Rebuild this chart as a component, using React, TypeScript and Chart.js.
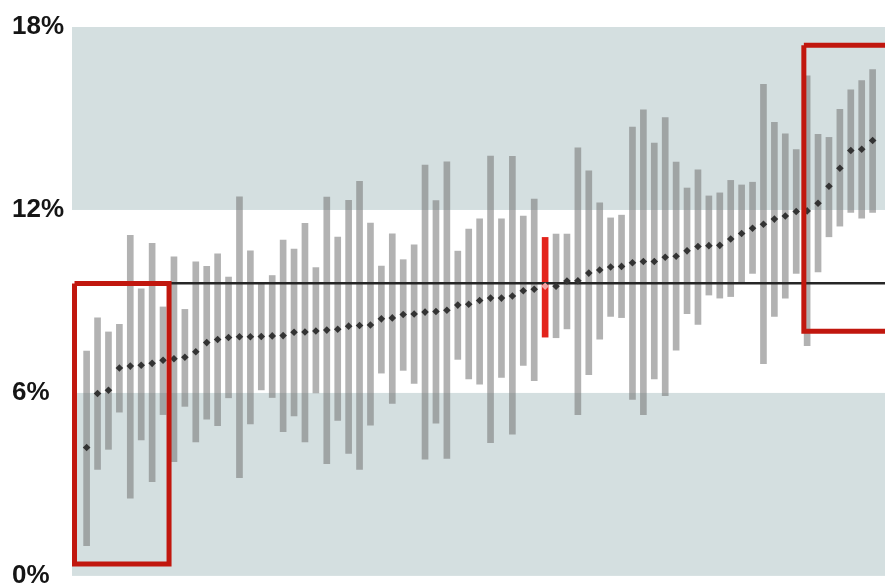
import React, { useEffect, useRef } from "react";
import { Chart, registerables } from "chart.js";

Chart.register(...registerables);

// Upper end of each range (%)
const highs: number[] = [
  7.37, 8.46, 8.0, 8.25, 11.17, 9.41, 10.91, 8.82, 10.46, 8.74,
  10.3, 10.15, 10.56, 9.8, 12.43, 10.66, 9.57, 9.85, 11.01, 10.72,
  11.56, 10.11, 12.42, 11.11, 12.32, 12.94, 11.57, 10.16, 11.22, 10.37,
  10.86, 13.47, 12.31, 13.58, 10.65, 11.37, 11.71, 13.77, 11.71, 13.76,
  11.8, 12.36, 11.1, 11.21, 11.21, 14.04, 13.28, 12.23, 11.74, 11.83,
  14.72, 15.28, 14.19, 15.03, 13.57, 12.72, 13.32, 12.46, 12.56, 12.97,
  12.82, 12.91, 16.12, 14.87, 14.5, 13.98, 16.4, 14.48, 14.38, 15.3,
  15.94, 16.24, 16.6,
];
// Lower end of each range (%)
const lows: number[] = [
  0.99, 3.49, 4.15, 5.37, 2.55, 4.46, 3.09, 5.29, 3.75, 5.56,
  4.39, 5.14, 4.93, 5.84, 3.22, 4.98, 6.1, 5.85, 4.73, 5.25,
  4.39, 6.0, 3.68, 5.1, 4.02, 3.49, 4.94, 6.65, 5.66, 6.74,
  6.31, 3.83, 5.01, 3.85, 7.1, 6.46, 6.29, 4.37, 6.51, 4.65,
  6.9, 6.4, 7.83, 7.81, 8.1, 5.29, 6.6, 7.76, 8.51, 8.47,
  5.79, 5.29, 6.46, 5.91, 7.4, 8.6, 8.25, 9.21, 9.11, 9.16,
  9.64, 9.92, 6.96, 8.51, 9.11, 9.92, 7.55, 9.97, 11.12, 11.47,
  11.92, 11.73, 11.92,
];
// Central estimate (%)
const means: number[] = [
  4.21, 5.98, 6.09, 6.82, 6.88, 6.91, 6.97, 7.07, 7.12, 7.17,
  7.35, 7.65, 7.75, 7.82, 7.84, 7.84, 7.85, 7.87, 7.88, 7.99,
  8.0, 8.03, 8.06, 8.09, 8.19, 8.21, 8.23, 8.43, 8.46, 8.57,
  8.59, 8.65, 8.67, 8.71, 8.88, 8.91, 9.03, 9.11, 9.11, 9.18,
  9.35, 9.4, 9.5, 9.5, 9.67, 9.68, 9.93, 10.03, 10.13, 10.15,
  10.27, 10.31, 10.31, 10.45, 10.48, 10.66, 10.8, 10.83, 10.84, 11.05,
  11.23, 11.4, 11.53, 11.7, 11.8, 11.95, 11.97, 12.22, 12.78, 13.37,
  13.95, 13.99, 14.28,
];
const highlightIndex = 42;
const referenceValue = 9.6;
const yTicks: number[] = [0, 6, 12, 18];
const bands: [number, number][] = [[0, 6], [12, 18]];
// Highlight boxes: [xFrom, xTo, yBottom, yTop] in index / percent units
const leftBox: number[] = [-1.11, 7.55, 0.39, 9.59];
const rightBox: number[] = [65.7, 76, 8.02, 17.4];

const X_MIN = -1.34;
const X_MAX = 73.5;

function boxPoints(b: number[]) {
  const [x0, x1, y0, y1] = b;
  return [
    { x: x0, y: y1 },
    { x: x1, y: y1 },
    { x: x1, y: y0 },
    { x: x0, y: y0 },
    { x: x0, y: y1 },
  ];
}

const bandPlugin = {
  id: "bands",
  beforeDatasetsDraw(chart: any) {
    const { ctx, chartArea, scales } = chart;
    ctx.save();
    ctx.fillStyle = "#d4dfe0";
    for (const [a, b] of bands) {
      const yTop = scales.y.getPixelForValue(b);
      const yBot = scales.y.getPixelForValue(a);
      ctx.fillRect(chartArea.left, yTop, chartArea.right - chartArea.left, yBot - yTop);
    }
    ctx.restore();
  },
};

export default function App() {
  const ref = useRef<HTMLCanvasElement | null>(null);

  useEffect(() => {
    document.documentElement.style.overflow = "hidden";
    document.body.style.overflow = "hidden";
    if (!ref.current) return;
    const idx = means.map((_, i) => i);
    const chart = new Chart(ref.current, {
      type: "bar",
      data: {
        datasets: [
          {
            type: "line",
            data: boxPoints(leftBox),
            borderColor: "#c1170e",
            borderWidth: 5,
            pointRadius: 0,
            fill: false,
            tension: 0,
            order: 0,
          } as any,
          {
            type: "line",
            data: boxPoints(rightBox),
            borderColor: "#c1170e",
            borderWidth: 5,
            pointRadius: 0,
            fill: false,
            tension: 0,
            order: 0,
          } as any,
          {
            type: "line",
            data: idx.map((i) => ({ x: i, y: means[i] })),
            showLine: false,
            pointStyle: "rectRot",
            pointRadius: 3.8,
            pointBorderWidth: 0,
            pointBackgroundColor: idx.map((i) => (i === highlightIndex ? "#f3a3a3" : "#333333")),
            order: 1,
          } as any,
          {
            type: "line",
            data: [
              { x: leftBox[1], y: referenceValue },
              { x: X_MAX + 1, y: referenceValue },
            ],
            borderColor: "#262626",
            borderWidth: 2.5,
            pointRadius: 0,
            fill: false,
            order: 2,
          } as any,
          {
            type: "bar",
            data: idx.map((i) => ({ x: i, y: [lows[i], highs[i]] })),
            backgroundColor: idx.map((i) =>
              i === highlightIndex ? "#e3231b" : "rgba(115,115,115,0.55)"
            ),
            borderWidth: 0,
            barThickness: 6,
            grouped: false,
            order: 3,
          } as any,
        ],
      },
      options: {
        animation: false,
        responsive: false,
        layout: { padding: { top: 19, left: 4, right: 0, bottom: 10 } },
        plugins: { legend: { display: false }, tooltip: { enabled: false } },
        scales: {
          x: {
            type: "linear",
            min: X_MIN,
            max: X_MAX,
            offset: false,
            display: false,
          },
          y: {
            min: 0,
            max: 18,
            afterFit: (s: any) => {
              s.width = 60;
            },
            afterBuildTicks: (s: any) => {
              s.ticks = yTicks.map((v) => ({ value: v }));
            },
            ticks: {
              crossAlign: "far",
              color: "#151515",
              font: { family: "'Liberation Sans', Arial, sans-serif", size: 26, weight: "bold", lineHeight: 0.7 },
              callback: (v: any) => v + "%",
            },
            grid: { display: false },
            border: { display: false },
          },
        },
      } as any,
      plugins: [bandPlugin],
    });
    return () => chart.destroy();
  }, []);

  return (
    <div style={{ width: 885, height: 580 }}>
      <canvas ref={ref} width={885} height={580} style={{ display: "block", width: 885, height: 580 }} />
    </div>
  );
}
